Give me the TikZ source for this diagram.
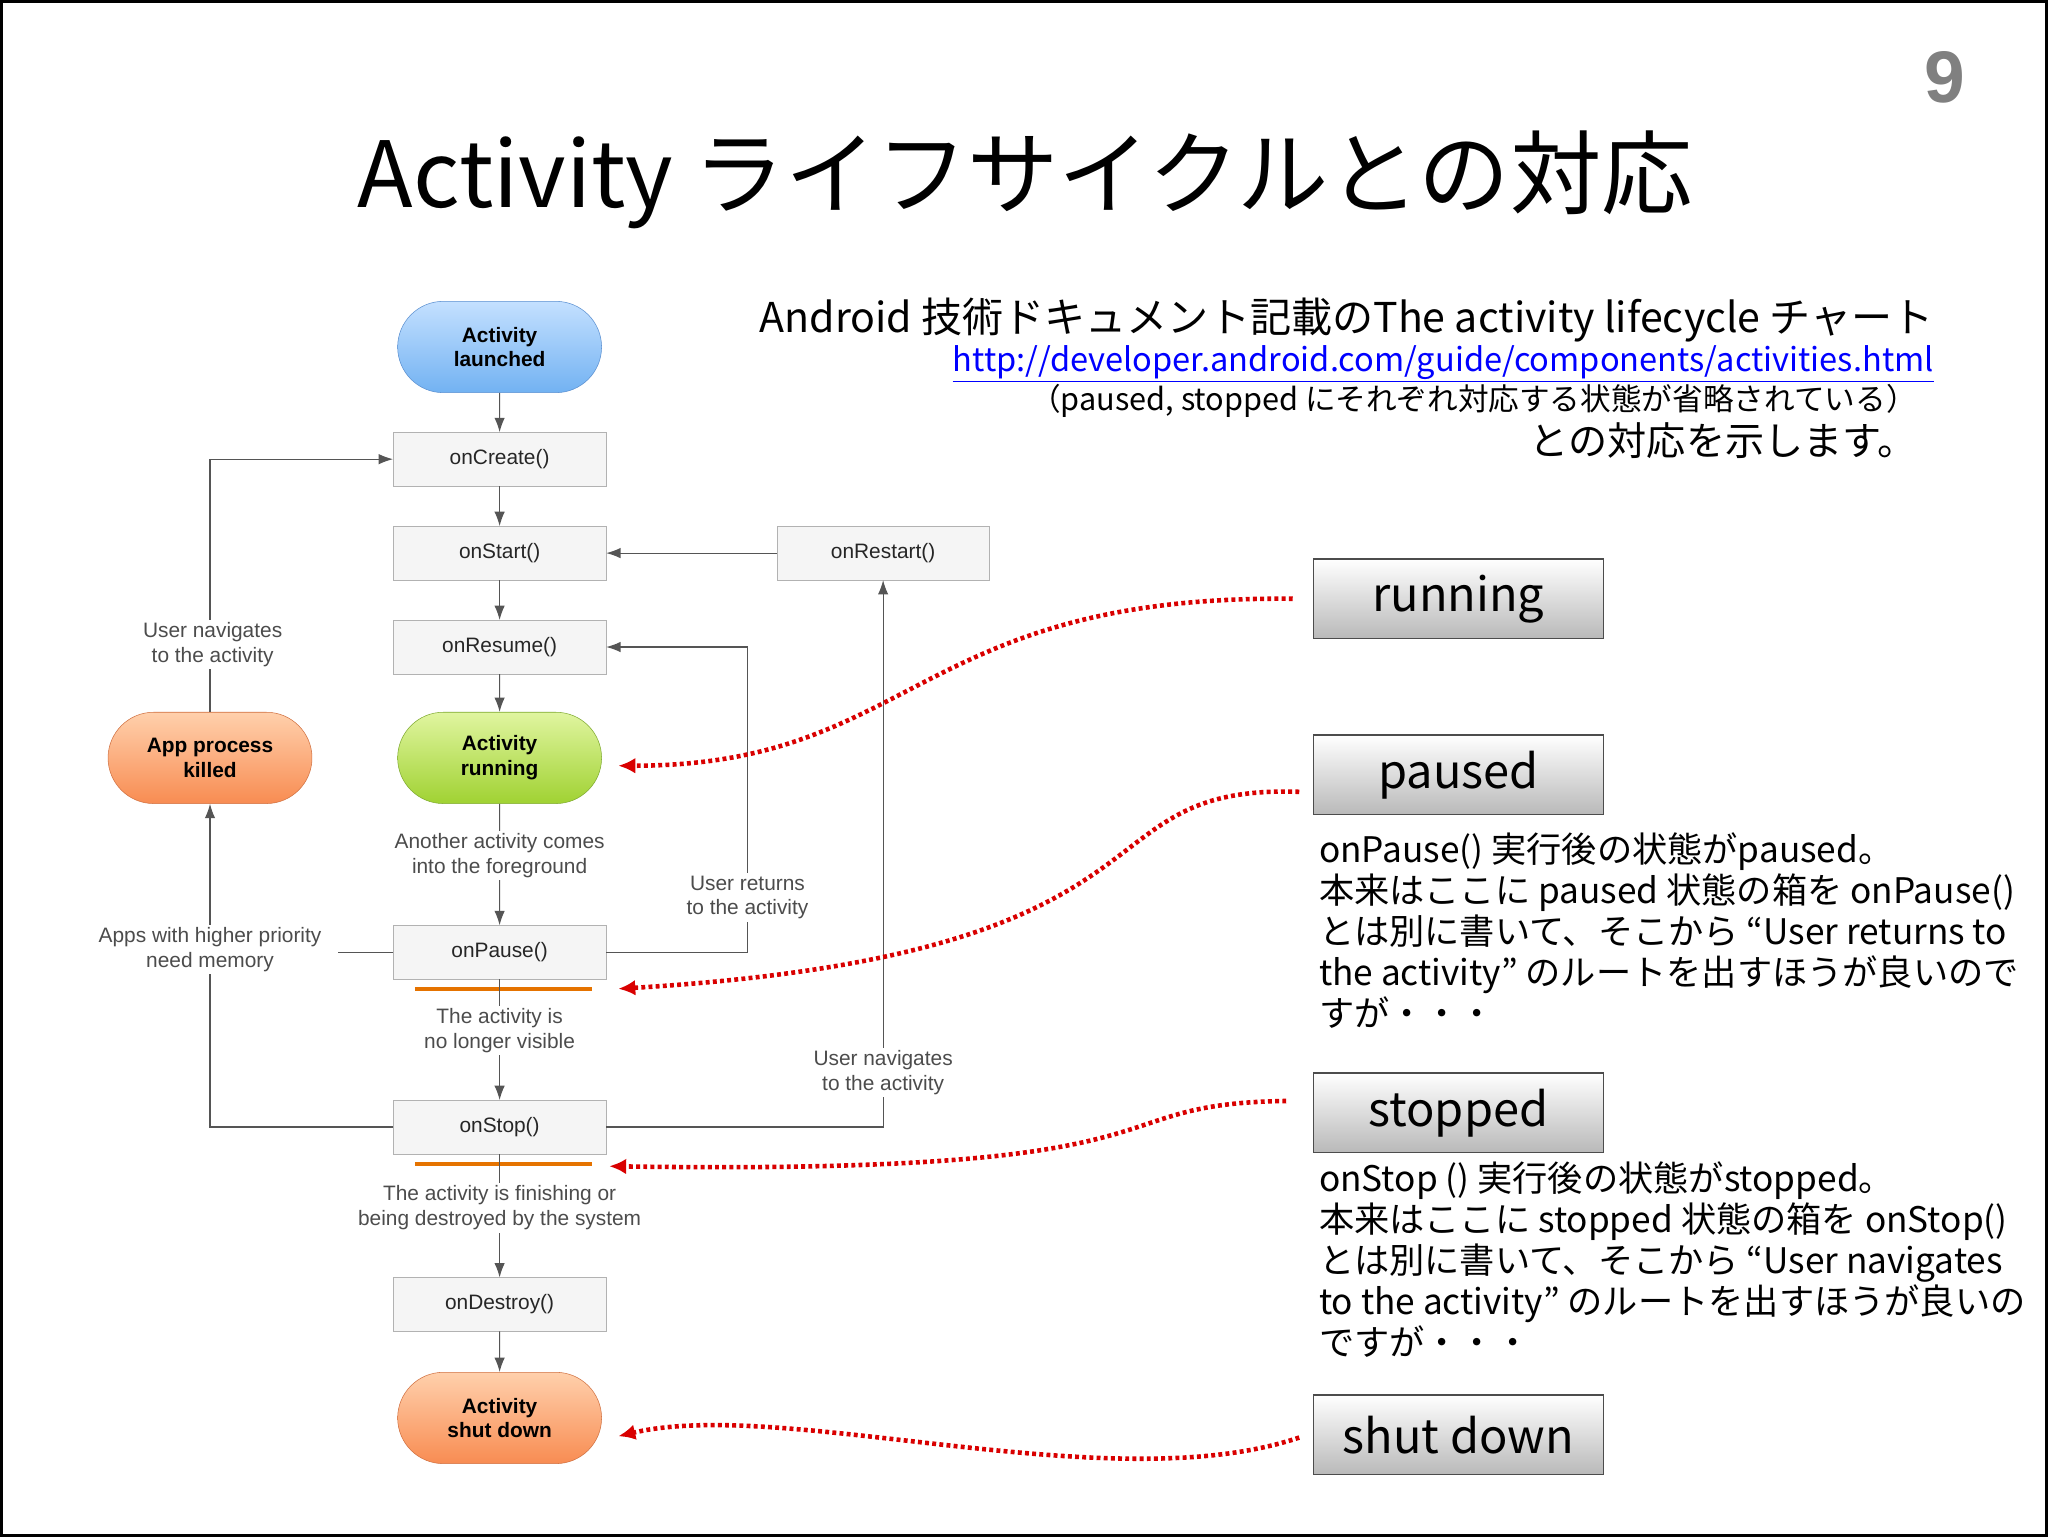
\documentclass[tikz,border=0pt]{standalone}
\usepackage{fontspec}
\setmainfont{Liberation Sans}
\newfontfamily\jp{Noto Sans CJK JP}
\usetikzlibrary{arrows.meta,shapes.misc}
\definecolor{ln}{HTML}{555555}
\definecolor{bt}{HTML}{C4E0FF}\definecolor{bb}{HTML}{72B2F2}\definecolor{bd}{HTML}{5A8FD0}
\definecolor{gt}{HTML}{E0F5A0}\definecolor{gb}{HTML}{A0D232}\definecolor{gd}{HTML}{7FAA30}
\definecolor{ot}{HTML}{FFD0AC}\definecolor{ob}{HTML}{F88C52}\definecolor{od}{HTML}{D07040}
\begin{document}
\begin{tikzpicture}[x=1pt,y=-1pt,
 box/.style={draw=gray!60,fill=gray!8,minimum width=163pt,minimum height=41pt,font=\fontsize{16}{18}\selectfont,text=black!85},
 st/.style n args={3}{rounded rectangle,minimum width=163pt,minimum height=70pt,font=\bfseries\fontsize{16}{19}\selectfont,align=center,draw=#3,top color=#1,bottom color=#2},
 lab/.style={fill=white,align=center,font=\fontsize{16}{19}\selectfont,text=black!70,inner sep=2pt},
 ar/.style={draw=ln,line width=0.9pt,-{Latex[length=11pt,width=8pt]}},
 ln/.style={draw=ln,line width=0.9pt},
 rb/.style={draw=black!70,line width=1pt,minimum width=222pt,minimum height=61pt,top color=white,bottom color=gray!55,font=\jp\fontsize{36}{40}\selectfont},
 red/.style={draw=red!85!black,line width=3.5pt,dash pattern=on 3pt off 2.5pt,-{Latex[length=13pt,width=12pt]}},
 jt/.style={font=\jp\fontsize{27}{31.5}\selectfont,align=left,anchor=north west,inner sep=0pt}]
\draw[black,line width=2pt,fill=white] (0,0) rectangle (1568,1176);
\node[font=\bfseries\fontsize{56}{60}\selectfont,text=gray] (num) at (1490,58) {9};
\node[font=\jp\fontsize{70}{76}\selectfont] (title) at (785,137) {Activity ライフサイクルとの対応};
\node[font=\jp\fontsize{31.5}{34}\selectfont,anchor=east] (t1) at (1485,244) {Android 技術ドキュメント記載のThe activity lifecycle チャート};
\node[font=\jp\fontsize{25}{28}\selectfont,anchor=east,text=blue] (t2) at (1485,278) {\underline{http://developer.android.com/guide/components/activities.html}};
\node[font=\jp\fontsize{23.5}{26}\selectfont,anchor=east] (t3) at (1472,306) {（paused, stopped にそれぞれ対応する状態が省略されている）};
\node[font=\jp\fontsize{30}{34}\selectfont,anchor=east] (t4) at (1472,337) {との対応を示します。};

\node[st={bt}{bb}{bd}] (launch) at (382,265) {Activity\\launched};
\node[box] (create) at (382,351) {onCreate()};
\node[box] (start) at (382,423) {onStart()};
\node[box] (restart) at (676,423) {onRestart()};
\node[box] (resume) at (382,495) {onResume()};
\node[st={gt}{gb}{gd}] (run) at (382,580) {Activity\\running};
\node[st={ot}{ob}{od}] (killed) at (160,580) {App process\\killed};
\node[box] (pause) at (382,729) {onPause()};
\node[box] (stop) at (382,863) {onStop()};
\node[box] (destroy) at (382,999) {onDestroy()};
\node[st={ot}{ob}{od}] (shut) at (382,1086) {Activity\\shut down};
\draw[orange!90!black,line width=3pt] (317,757) -- (453,757);
\draw[orange!90!black,line width=3pt] (317,891) -- (453,891);

\draw[ar] (launch) -- (create);
\draw[ar] (create) -- (start);
\draw[ar] (start) -- (resume);
\draw[ar] (resume) -- (run);
\draw[ar] (run) -- (pause);
\draw[ar] (pause) -- (stop);
\draw[ar] (stop) -- (destroy);
\draw[ar] (destroy) -- (shut);
\draw[ar] (restart) -- (start);
\draw[ar] (pause.east) -- (572,729) -- (572,495) -- (resume.east);
\draw[ar] (stop.east) -- (676,863) -- (restart.south);
\draw[ar] (stop.west) -- (160,863) -- (killed.south);
\draw[ar] (killed.north) -- (160,351) -- (create.west);
\draw[ln] (pause.west) -- (258,729);

\node[lab] (l1) at (162,493) {User navigates\\to the activity};
\node[lab] (l2) at (382,655) {Another activity comes\\into the foreground};
\node[lab] (l3) at (572,687) {User returns\\to the activity};
\node[lab] (l4) at (160,727) {Apps with higher priority\\need memory};
\node[lab] (l5) at (382,789) {The activity is\\no longer visible};
\node[lab] (l6) at (676,821) {User navigates\\to the activity};
\node[lab] (l7) at (382,925) {The activity is finishing or\\being destroyed by the system};

\node[rb] (rrun) at (1117,458) {running};
\node[rb] (rpause) at (1117,593) {paused};
\node[rb] (rstop) at (1117,852) {stopped};
\node[rb] (rshut) at (1117,1099) {shut down};
\coordinate (c1) at (990,458);
\coordinate (c2) at (995,606);
\coordinate (c3) at (985,843);
\coordinate (c4) at (995,1101);
\coordinate (e1) at (473,586);
\coordinate (e2) at (473,757);
\coordinate (e3) at (466,893);
\coordinate (e4) at (473,1100);
\draw[red] (c1) .. controls (700,455) and (700,586) .. (e1);
\draw[red] (c2) .. controls (820,600) and (920,730) .. (e2);
\draw[red] (c3) .. controls (830,845) and (930,900) .. (e3);
\draw[red] (c4) .. controls (850,1150) and (600,1070) .. (e4);

\node[jt] (p1) at (1010,637) {onPause() 実行後の状態がpaused。\\本来はここに paused 状態の箱を onPause()\\とは別に書いて、そこから “User returns to\\the activity” のルートを出すほうが良いので\\すが・・・};
\node[jt] (p2) at (1010,889) {onStop () 実行後の状態がstopped。\\本来はここに stopped 状態の箱を onStop()\\とは別に書いて、そこから “User navigates\\to the activity” のルートを出すほうが良いの\\ですが・・・};
\end{tikzpicture}
\end{document}
